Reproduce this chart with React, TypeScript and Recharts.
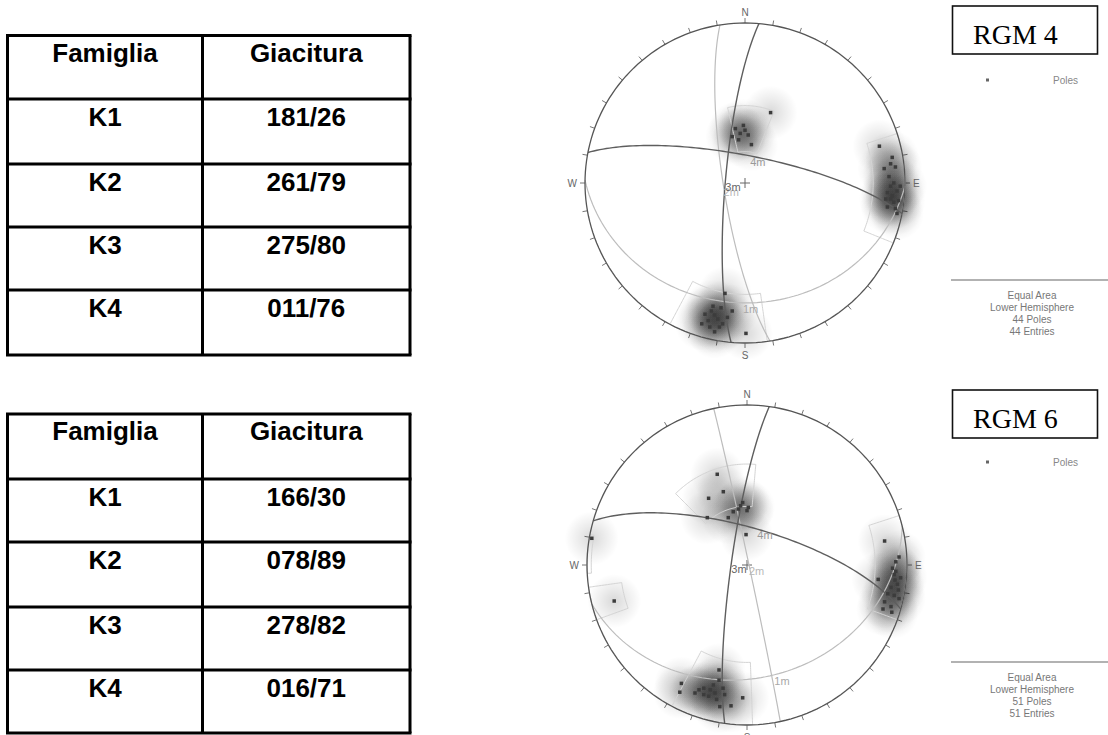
import React from "react";
import { ScatterChart, Scatter, XAxis, YAxis, ReferenceLine } from "recharts";

const families = ["K1", "K2", "K3", "K4"];
const giacituraRgm4 = ["181/26", "261/79", "275/80", "011/76"];
const giacituraRgm6 = ["166/30", "078/89", "278/82", "016/71"];

const polesRgm4: [number, number][] = [
  [0.16, 0.44], [0.04, 0.24], [-0.03, 0.31], [-0.06, 0.34], [-0.01, 0.36],
  [-0.08, 0.29], [0.02, 0.3], [-0.04, 0.27], [0.0, 0.33],
  [0.84, 0.23], [0.92, 0.16], [0.87, 0.09], [0.91, 0.12], [0.94, 0.1],
  [0.9, 0.04], [0.93, 0.0], [0.91, -0.02], [0.95, -0.05], [0.92, -0.08],
  [0.89, -0.06], [0.96, -0.11], [0.93, -0.12], [0.94, -0.16], [0.89, -0.15],
  [0.97, -0.02], [0.95, -0.19], [0.91, -0.1], [0.88, -0.1],
  [-0.125, -0.69], [-0.19, -0.825], [-0.21, -0.8], [-0.17, -0.85], [-0.23, -0.86],
  [-0.19, -0.93], [-0.08, -0.8], [0.006, -0.94], [-0.15, -0.78], [-0.25, -0.82],
  [-0.14, -0.88], [-0.2, -0.77], [-0.27, -0.88], [-0.11, -0.84], [-0.16, -0.9],
  [-0.22, -0.9],
];

const polesRgm6: [number, number][] = [
  [-0.186, 0.567], [-0.148, 0.458], [-0.24, 0.417], [-0.248, 0.296], [-0.117, 0.296],
  [-0.027, 0.39], [0.008, 0.36], [-0.086, 0.333], [-0.055, 0.35], [-0.006, 0.19],
  [-0.04, 0.37], [0.0, 0.34],
  [-0.97, 0.167], [-0.83, -0.225],
  [0.86, 0.15], [0.82, -0.09], [0.925, -0.094], [0.92, -0.06], [0.93, 0.02],
  [0.95, 0.05], [0.91, -0.02], [0.94, -0.12], [0.9, -0.14], [0.946, -0.156],
  [0.92, -0.19], [0.86, -0.23], [0.85, -0.275], [0.905, -0.295], [0.9, -0.26],
  [0.96, -0.08], [0.93, -0.04], [0.88, -0.18], [0.95, -0.21],
  [-0.175, -0.656], [-0.175, -0.72], [-0.41, -0.74], [-0.42, -0.795], [-0.325, -0.8],
  [-0.27, -0.77], [-0.27, -0.81], [-0.23, -0.78], [-0.21, -0.75], [-0.14, -0.81],
  [-0.19, -0.84], [-0.17, -0.885], [-0.1, -0.88], [-0.027, -0.83], [-0.24, -0.82],
  [-0.15, -0.77], [-0.3, -0.78], [-0.2, -0.8],
];

// finestre dei set: [trend da, trend a, plunge da, plunge a]
const windowsRgm4: number[][] = [
  [347, 382, 50, 74],
  [72, 112, 0, 21],
  [172, 208, 0, 31],
];
const windowsRgm6: number[][] = [
  [315, 365, 37, 60],
  [72, 110, 0, 21],
  [178, 208, 0, 39],
  [250, 262, 0, 22],
  [267, 281, 0, 3],
];

const cardinals = ["N", "E", "S", "W"];

const rad = Math.PI / 180;
const UNIT = 160; // px per raggio
const SPAN = 1.15;
const SIZE = 2 * SPAN * UNIT;

const planeColors = ["#bdbdbd", "#bdbdbd", "#5e5e5e", "#5e5e5e"];
const labelColors = ["#a8a8a8", "#b8b8b8", "#666", "#999"];

// equal area, emisfero inferiore
const toXY = (trend: number, plunge: number) => {
  const r = Math.SQRT2 * Math.sin(((90 - plunge) / 2) * rad);
  return { x: r * Math.sin(trend * rad), y: r * Math.cos(trend * rad) };
};

const parse = (s: string) => {
  const [dd, dip] = s.split("/").map(Number);
  return { dd, dip };
};

function greatCircle(dd: number, dip: number) {
  const s = (dd - 90) * rad;
  const sv = [Math.sin(s), Math.cos(s), 0];
  const dv = [
    Math.cos(dip * rad) * Math.sin(dd * rad),
    Math.cos(dip * rad) * Math.cos(dd * rad),
    Math.sin(dip * rad),
  ];
  const pts = [];
  for (let t = 0; t <= 180; t += 2) {
    const c = Math.cos(t * rad);
    const sn = Math.sin(t * rad);
    const e = c * sv[0] + sn * dv[0];
    const n = c * sv[1] + sn * dv[1];
    const d = c * sv[2] + sn * dv[2];
    const plunge = Math.asin(Math.min(1, Math.max(0, d))) / rad;
    pts.push(toXY(Math.atan2(e, n) / rad, plunge));
  }
  return pts;
}

function windowOutline([t1, t2, p1, p2]: number[]) {
  const pts = [];
  for (let t = t1; t <= t2; t += 1) pts.push(toXY(t, p1));
  for (let p = p1; p <= p2; p += 1) pts.push(toXY(t2, p));
  for (let t = t2; t >= t1; t -= 1) pts.push(toXY(t, p2));
  for (let p = p2; p >= p1; p -= 1) pts.push(toXY(t1, p));
  return pts;
}

const primitive = Array.from({ length: 181 }, (_, i) => toXY(i * 2, 0));

const noShape = () => <g />;

function Stereonet({ left, top, giacitura, poles, windows, id }: any) {
  const planes = giacitura.map(parse);
  const poleData = poles.map(([x, y]: number[]) => ({ x, y }));
  const ticks = Array.from({ length: 36 }, (_, i) => i * 10);
  const labels = planes.map((p: any, i: number) => ({
    ...toXY(p.dd, p.dip),
    label: `${i + 1}m`,
    color: labelColors[i],
  }));
  const cardinalData = cardinals.map((c, i) => ({ ...toXY(i * 90, 0), label: c, az: i * 90 }));

  return (
    <div style={{ position: "absolute", left, top }}>
      <ScatterChart width={SIZE} height={SIZE} margin={{ top: 0, right: 0, bottom: 0, left: 0 }}>
        <defs>
          <radialGradient id={id}>
            <stop offset="0%" stopColor="#000" stopOpacity={0.15} />
            <stop offset="45%" stopColor="#000" stopOpacity={0.08} />
            <stop offset="100%" stopColor="#000" stopOpacity={0} />
          </radialGradient>
        </defs>
        <XAxis type="number" dataKey="x" domain={[-SPAN, SPAN]} hide allowDataOverflow />
        <YAxis type="number" dataKey="y" domain={[-SPAN, SPAN]} hide allowDataOverflow />

        <Scatter
          data={poleData}
          isAnimationActive={false}
          shape={(p: any) => <circle cx={p.cx} cy={p.cy} r={27} fill={`url(#${id})`} />}
        />

        {windows.map((w: number[], i: number) => (
          <Scatter
            key={`w${i}`}
            data={windowOutline(w)}
            line={{ stroke: "#d4d4d4", strokeWidth: 1 }}
            shape={noShape}
            isAnimationActive={false}
          />
        ))}

        {planes.map((p: any, i: number) => (
          <Scatter
            key={`gc${i}`}
            data={greatCircle(p.dd, p.dip)}
            line={{ stroke: planeColors[i], strokeWidth: i > 1 ? 1.4 : 1.2 }}
            shape={noShape}
            isAnimationActive={false}
          />
        ))}

        <Scatter
          data={primitive}
          line={{ stroke: "#555", strokeWidth: 1.3 }}
          shape={noShape}
          isAnimationActive={false}
        />

        {ticks.map((a) => {
          const len = 5 / UNIT;
          const p0 = toXY(a, 0);
          return (
            <ReferenceLine
              key={`t${a}`}
              segment={[
                { x: p0.x, y: p0.y },
                { x: p0.x * (1 + len), y: p0.y * (1 + len) },
              ]}
              stroke="#777"
              strokeWidth={1}
            />
          );
        })}
        <ReferenceLine segment={[{ x: -5 / UNIT, y: 0 }, { x: 5 / UNIT, y: 0 }]} stroke="#666" />
        <ReferenceLine segment={[{ x: 0, y: -5 / UNIT }, { x: 0, y: 5 / UNIT }]} stroke="#666" />

        <Scatter
          data={poleData}
          isAnimationActive={false}
          shape={(p: any) => (
            <rect x={p.cx - 1.75} y={p.cy - 1.75} width={3.5} height={3.5} fill="#3c3c3c" />
          )}
        />

        <Scatter
          data={labels}
          isAnimationActive={false}
          shape={(p: any) => (
            <text
              x={p.cx}
              y={p.cy + 10}
              fontSize={11}
              fontFamily="Liberation Sans, Arial, sans-serif"
              fill={p.payload.color}
            >
              {p.payload.label}
            </text>
          )}
        />

        <Scatter
          data={cardinalData}
          isAnimationActive={false}
          shape={(p: any) => {
            const az = p.payload.az;
            const dx = az === 90 ? 8 : az === 270 ? -8 : 0;
            const dy = az === 0 ? -7 : az === 180 ? 16 : 4;
            const anchor = az === 90 ? "start" : az === 270 ? "end" : "middle";
            return (
              <text
                x={p.cx + dx}
                y={p.cy + dy}
                fontSize={10}
                textAnchor={anchor}
                fontFamily="Liberation Sans, Arial, sans-serif"
                fill="#666"
              >
                {p.payload.label}
              </text>
            );
          }}
        />
      </ScatterChart>
    </div>
  );
}

function FamilyTable({ rows, values }: { rows: number[]; values: string[] }) {
  const xs = [7.5, 202.5, 410];
  const top = rows[0];
  const bottom = rows[rows.length - 1];
  const colCenters = [(xs[0] + xs[1]) / 2, (xs[1] + xs[2]) / 2];
  const cells = [["Famiglia", "Giacitura"], ...families.map((f, i) => [f, values[i]])];
  return (
    <g>
      {rows.map((y) => (
        <line key={`h${y}`} x1={xs[0] - 1.5} x2={xs[2] + 1.5} y1={y} y2={y} stroke="#000" strokeWidth={3} />
      ))}
      {xs.map((x) => (
        <line key={`v${x}`} x1={x} x2={x} y1={top} y2={bottom} stroke="#000" strokeWidth={3} />
      ))}
      {cells.map((row, r) =>
        row.map((txt, c) => (
          <text
            key={`${r}-${c}`}
            x={colCenters[c]}
            y={rows[r] + (r === 0 ? 26 : 27)}
            textAnchor="middle"
            fontFamily="Liberation Sans, Arial, sans-serif"
            fontWeight="bold"
            fontSize={26}
            fill="#000"
          >
            {txt}
          </text>
        ))
      )}
    </g>
  );
}

function LegendPane({ boxTop, poleY, lineY, title, count }: any) {
  const info = ["Equal Area", "Lower Hemisphere", `${count} Poles`, `${count} Entries`];
  return (
    <g fontFamily="Liberation Sans, Arial, sans-serif">
      <rect x={952.5} y={boxTop} width={145} height={48} fill="#fff" stroke="#111" strokeWidth={1.6} />
      <text x={973} y={boxTop + 38} fontFamily="Liberation Serif, Times New Roman, serif" fontSize={28} fill="#000">
        {title}
      </text>
      <rect x={986} y={poleY - 1.5} width={3} height={3} fill="#666" />
      <text x={1053} y={poleY + 3.5} fontSize={10} fill="#888">
        Poles
      </text>
      <line x1={951} x2={1108} y1={lineY} y2={lineY} stroke="#999" strokeWidth={1.5} />
      {info.map((t, i) => (
        <text key={t} x={1032} y={lineY + 18.5 + i * 12.3} fontSize={10} textAnchor="middle" fill="#777">
          {t}
        </text>
      ))}
    </g>
  );
}

export default function App() {
  return (
    <div
      style={{
        position: "absolute",
        left: 0,
        top: 0,
        width: 1108,
        height: 735,
        overflow: "hidden",
        background: "#fff",
      }}
    >
      <svg width={1108} height={735} style={{ position: "absolute", left: 0, top: 0 }}>
        <FamilyTable rows={[35.5, 99, 164, 227, 290, 355]} values={giacituraRgm4} />
        <FamilyTable rows={[414, 479, 542, 607, 670, 733]} values={giacituraRgm6} />
        <LegendPane boxTop={6} poleY={80} lineY={280} title="RGM 4" count={polesRgm4.length} />
        <LegendPane boxTop={390} poleY={462} lineY={662} title="RGM 6" count={polesRgm6.length} />
      </svg>
      <Stereonet left={745 - SIZE / 2} top={183 - SIZE / 2} giacitura={giacituraRgm4} poles={polesRgm4} windows={windowsRgm4} id="halo4" />
      <Stereonet left={747 - SIZE / 2} top={565 - SIZE / 2} giacitura={giacituraRgm6} poles={polesRgm6} windows={windowsRgm6} id="halo6" />
    </div>
  );
}
